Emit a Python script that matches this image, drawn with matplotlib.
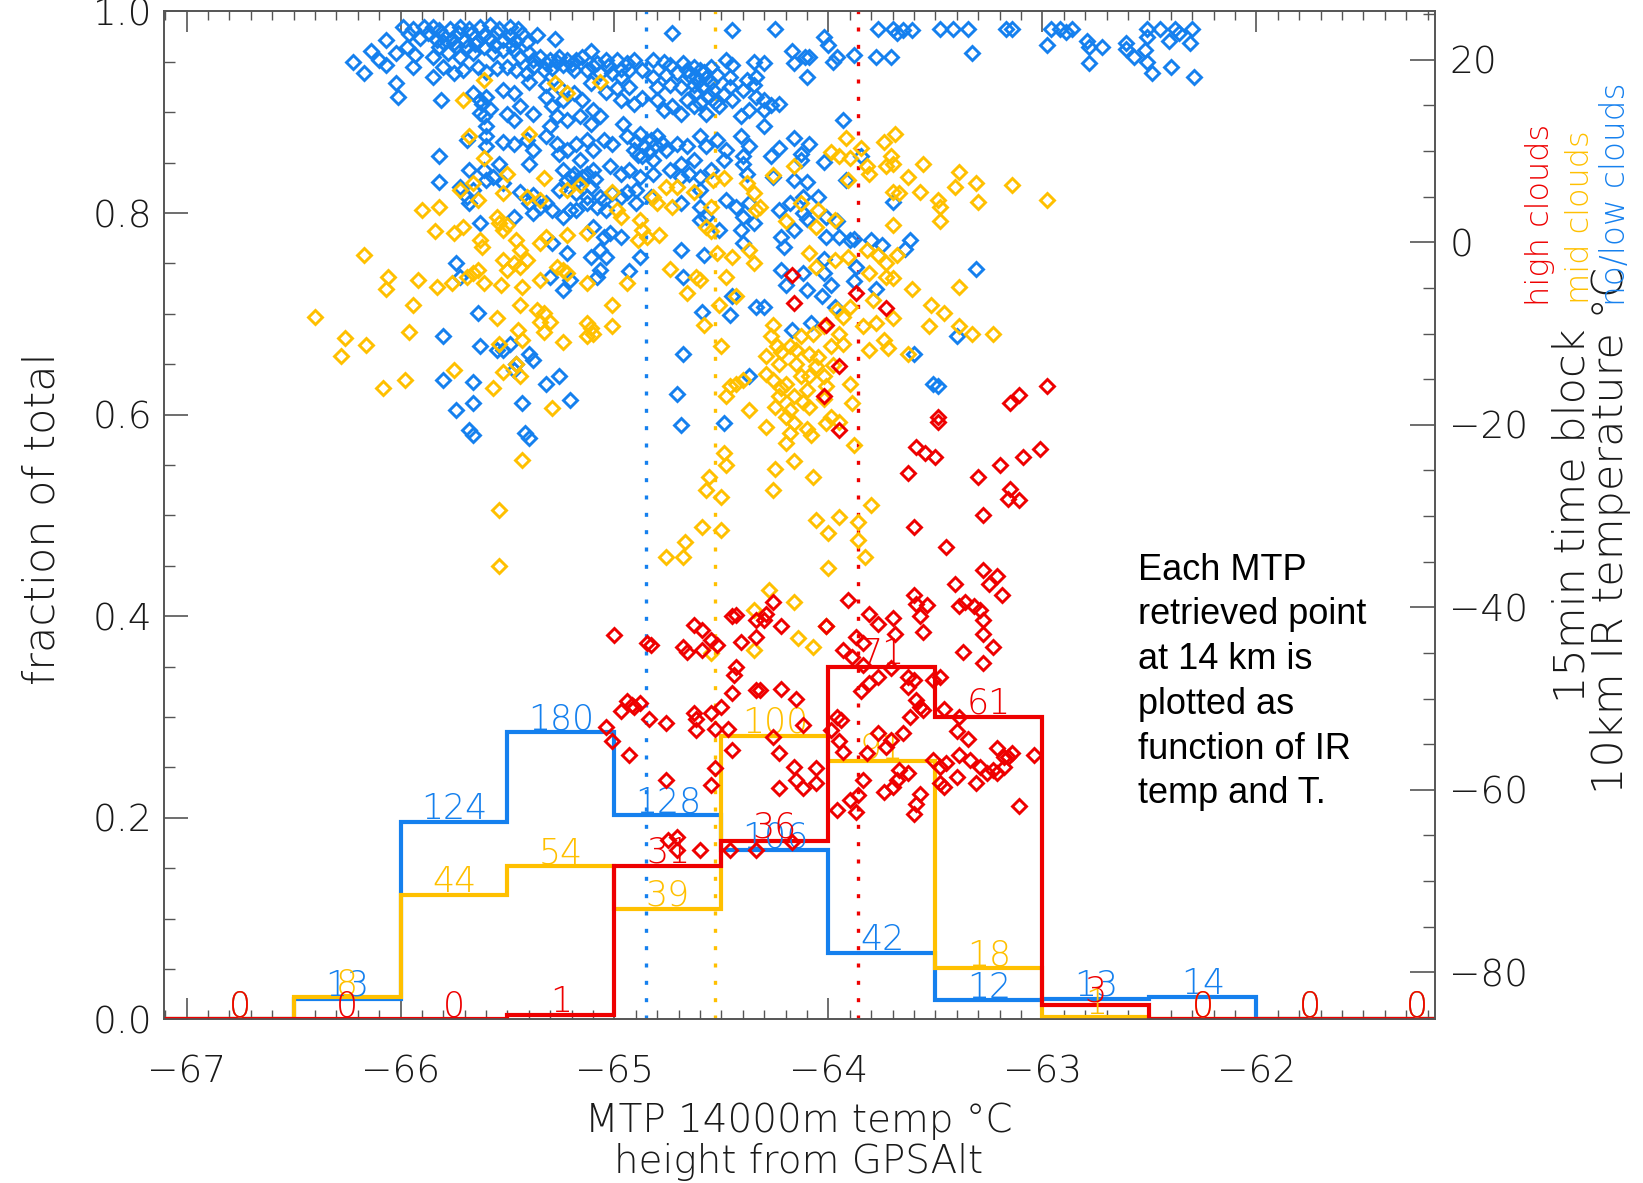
import numpy as np
import matplotlib
matplotlib.use("Agg")
import matplotlib.pyplot as plt
from matplotlib.ticker import MultipleLocator, FormatStrFormatter

plt.rcParams['font.family'] = ['DejaVu Sans']

# ---------------- data ----------------
bin_edges = [-67.0, -66.5, -66.0, -65.5, -65.0, -64.5, -64.0, -63.5, -63.0, -62.5, -62.0, -61.5, -61.0]
no_low_counts = [0, 13, 124, 180, 128, 106, 42, 12, 13, 14, 0, 0]
mid_counts = [0, 8, 44, 54, 39, 100, 91, 18, 1, 0, 0, 0]
high_counts = [0, 0, 0, 1, 31, 36, 71, 61, 3, 0, 0, 0]

# mean MTP temperature for each class (dotted lines)
mean_temps = {'no_low': -64.855, 'mid': -64.532, 'high': -63.861}

# scatter points: (MTP 14 km temp, 10 km IR temperature)
no_low_pts = [
    (-65.99,23.6),(-65.94,23.4),(-65.89,23.6),(-65.85,23.6),(-65.82,23.3),(-65.77,23.4),(-65.72,23.6),
    (-65.68,23.4),(-65.63,23.6),(-65.58,23.8),(-65.54,23.4),(-65.49,23.6),(-65.45,23.4),(-65.36,22.7),
    (-65.28,22.3),(-64.73,22.9),(-64.45,23.3),(-66.07,22.2),(-66.14,20.9),(-66.22,19.8),(-66.17,18.5),
    (-66.10,20.0),(-66.07,19.4),(-66.02,20.7),(-65.97,21.4),(-65.93,20.5),(-65.94,19.2),(-65.85,20.3),
    (-65.82,21.4),(-65.78,20.7),(-65.75,21.8),(-65.72,20.3),(-65.69,21.4),(-65.66,20.7),(-65.61,21.4),
    (-65.57,20.7),(-65.52,21.1),(-65.47,21.1),(-65.44,20.3),(-65.40,20.7),(-65.35,20.3),(-65.30,20.0),
    (-65.26,20.3),(-65.22,20.0),(-65.18,20.0),(-65.11,20.9),(-65.08,19.6),(-65.04,20.0),(-64.99,20.0),
    (-64.94,19.6),(-64.91,20.0),(-64.82,20.0),(-64.77,19.8),(-64.74,19.4),(-64.68,19.6),(-64.63,19.2),
    (-64.60,18.9),(-64.55,19.2),(-64.48,20.0),(-64.45,19.4),(-64.35,19.8),(-65.85,18.1),(-65.80,19.2),
    (-65.75,18.5),(-65.71,18.9),(-65.64,19.2),(-65.60,18.7),(-65.55,19.1),(-65.50,19.2),(-65.46,18.9),
    (-65.41,18.5),(-65.38,19.2),(-65.33,18.9),(-65.29,19.1),(-65.24,19.4),(-65.19,18.9),(-65.13,18.9),
    (-65.07,18.5),(-65.01,18.5),(-64.97,18.1),(-64.93,18.9),(-64.87,18.9),(-64.82,18.1),(-64.76,18.3),
    (-64.71,18.5),(-64.66,18.9),(-64.62,18.1),(-64.57,18.0),(-64.52,18.3),(-64.46,18.1),(-64.38,17.8),
    (-64.34,18.1),(-66.02,17.4),(-66.01,15.9),(-65.81,15.6),(-65.40,17.6),(-65.32,17.2),(-65.26,17.0),
    (-65.11,17.4),(-65.04,16.5),(-64.99,16.9),(-64.93,17.0),(-64.87,15.8),(-64.80,17.0),(-64.74,17.2),
    (-64.69,17.0),(-64.63,17.2),(-64.59,17.0),(-64.54,16.7),(-64.46,17.0),(-64.40,16.7),(-64.35,17.2),
    (-65.66,16.3),(-65.63,15.6),(-65.60,15.9),(-65.52,16.7),(-65.47,16.3),(-65.44,14.9),(-65.50,14.1),
    (-65.47,13.4),(-65.32,15.9),(-65.29,14.9),(-65.24,15.6),(-65.19,16.3),(-65.15,15.6),(-65.10,14.5),
    (-65.16,13.8),(-65.11,13.0),(-65.22,13.4),(-65.27,13.8),(-65.30,12.7),(-65.38,14.1),(-65.07,13.8),
    (-64.97,15.6),(-64.91,15.2),(-64.80,15.6),(-64.77,14.5),(-64.73,14.9),(-64.66,15.6),(-64.69,14.1),
    (-64.63,14.9),(-64.57,14.1),(-64.51,14.9),(-64.45,15.6),(-64.41,13.8),(-64.37,14.5),(-64.34,15.9),
    (-65.61,13.8),(-65.60,12.7),(-64.96,13.0),(-65.69,11.2),(-65.60,11.6),(-65.52,11.0),(-65.47,10.8),
    (-65.41,11.2),(-65.38,10.1),(-65.32,11.6),(-65.27,10.8),(-65.22,10.1),(-65.18,10.8),(-65.13,11.2),
    (-65.10,10.1),(-65.05,11.2),(-65.01,10.8),(-64.94,11.6),(-64.88,11.9),(-64.83,11.2),(-64.91,10.1),
    (-64.87,9.4),(-64.80,11.6),(-64.76,10.1),(-64.71,10.8),(-64.66,10.5),(-64.60,11.6),(-64.57,10.5),
    (-64.52,11.2),(-64.48,10.1),(-64.41,11.6),(-64.37,10.5),(-65.82,9.4),(-65.60,10.5),(-65.54,8.6),
    (-65.40,8.6),(-65.26,9.7),(-65.16,9.0),(-64.82,9.0),(-64.69,8.6),(-64.63,9.0),(-64.49,9.0),
    (-64.40,9.4),(-65.68,7.9),(-65.61,7.9),(-65.57,7.2),(-65.52,6.5),(-65.82,6.6),(-65.72,6.1),
    (-65.66,5.7),(-65.60,6.8),(-65.24,7.9),(-65.19,7.5),(-65.15,7.2),(-65.10,7.9),(-65.22,6.8),
    (-65.11,6.1),(-65.02,8.3),(-64.97,7.5),(-64.93,7.9),(-64.88,7.2),(-64.82,7.5),(-64.74,7.9),
    (-64.69,7.2),(-64.65,7.5),(-64.60,7.2),(-64.55,7.9),(-64.40,8.6),(-64.38,7.5),(-65.44,5.5),
    (-65.38,5.2),(-65.26,5.7),(-65.18,5.4),(-65.13,5.0),(-65.07,5.0),(-65.01,5.4),(-64.94,5.5),
    (-64.90,5.7),(-64.83,5.0),(-64.60,5.7),(-64.48,4.6),(-64.43,3.9),(-64.37,4.3),(-65.69,5.0),
    (-65.68,4.3),(-65.40,4.3),(-65.35,3.9),(-65.32,4.3),(-65.38,3.2),(-65.29,3.5),(-65.24,2.8),
    (-65.21,3.5),(-65.18,3.5),(-65.13,4.3),(-65.08,3.9),(-65.05,4.6),(-65.04,3.5),(-64.97,5.0),
    (-64.90,4.3),(-64.69,4.3),(-64.60,3.9),(-64.57,2.8),(-64.40,2.8),(-64.35,2.1),(-65.63,2.1),
    (-65.47,2.8),(-65.10,1.7),(-65.05,0.6),(-65.02,1.0),(-64.97,0.6),(-64.60,2.4),(-64.51,1.3),
    (-64.41,1.3),(-64.40,-0.1),(-65.29,-0.1),(-65.22,-1.2),(-65.11,-1.6),(-65.07,-0.9),(-65.04,-1.6),
    (-64.88,-1.6),(-64.69,-0.9),(-64.58,-1.4),(-65.74,-2.3),(-65.72,-3.8),(-65.30,-3.8),(-65.24,-5.2),
    (-65.21,-4.1),(-65.07,-3.0),(-65.08,-3.8),(-64.93,-3.2),(-64.68,-3.8),(-64.45,-5.9),(-64.34,-7.1),
    (-65.64,-7.8),(-65.80,-10.3),(-65.63,-11.4),(-65.55,-11.8),(-65.52,-11.8),(-65.49,-11.1),(-65.40,-12.2),
    (-65.38,-12.9),(-65.46,-13.3),(-64.59,-7.6),(-64.46,-8.0),(-64.68,-12.2),(-65.80,-15.1),(-65.66,-15.3),
    (-65.47,-14.0),(-65.32,-15.5),(-65.26,-14.7),(-64.71,-16.6),(-65.74,-18.4),(-65.66,-17.65),(-65.43,-17.65),
    (-65.21,-17.3),(-64.37,-14.7),(-65.68,-20.6),(-65.66,-21.1),(-65.42,-20.9),(-65.40,-21.5),(-64.69,-20.0),
    (-64.49,-19.8),
    (-64.25,23.4),(-63.77,23.4),(-63.70,23.4),(-63.68,22.9),(-63.65,23.3),(-63.61,23.3),(-63.48,23.4),
    (-63.42,23.4),(-63.35,23.4),(-63.17,23.4),(-63.14,23.4),(-62.96,23.4),(-62.92,23.4),(-62.89,23.07),
    (-62.86,23.4),(-62.51,23.4),(-62.45,23.4),(-62.38,23.4),(-62.36,22.9),(-62.30,23.4),(-64.02,22.5),
    (-64.00,21.6),(-64.17,20.9),(-64.11,20.3),(-64.09,20.3),(-64.16,19.6),(-63.96,20.3),(-63.98,19.8),
    (-63.88,20.5),(-63.78,20.3),(-63.71,20.3),(-63.33,20.7),(-64.30,19.6),(-64.10,18.1),(-62.98,21.6),
    (-62.79,22.0),(-62.78,21.4),(-62.72,21.4),(-62.61,21.8),(-62.61,21.2),(-62.57,20.3),(-62.52,21.1),
    (-62.51,19.8),(-62.49,18.5),(-62.40,19.2),(-62.41,22.0),(-62.31,21.8),(-62.51,22.5),(-62.29,18.1),
    (-62.78,19.6),(-64.30,15.6),(-64.27,15.0),(-64.23,15.2),(-64.30,14.5),(-64.30,12.7),(-63.93,13.4),
    (-64.16,11.4),(-64.09,10.8),(-64.23,10.3),(-64.27,9.4),(-64.13,9.7),(-64.13,9.0),(-64.02,8.8),
    (-64.26,7.2),(-64.16,6.8),(-64.10,6.6),(-63.92,6.8),(-63.85,9.4),(-64.23,3.5),(-64.18,4.3),
    (-64.12,5.0),(-64.05,5.0),(-64.12,3.2),(-64.10,2.6),(-64.01,2.8),(-63.96,2.3),(-64.22,0.6),
    (-64.21,-0.5),(-64.16,1.3),(-64.01,0.6),(-63.95,0.6),(-63.90,0.2),(-63.88,0.4),(-63.80,0.2),
    (-63.75,-0.3),(-63.64,-0.7),(-63.62,0.2),(-63.70,4.4),(-64.22,-3.0),(-64.12,-3.4),(-64.02,-3.4),
    (-63.99,-4.7),(-64.03,-5.9),(-64.10,-5.2),(-64.20,-4.7),(-64.30,-7.1),(-64.02,-1.8),(-63.87,-2.7),
    (-63.88,-4.3),(-63.78,-5.1),(-63.97,-7.1),(-64.08,-8.9),(-64.17,-9.6),(-63.31,-2.9),(-63.40,-10.3),
    (-63.60,-12.2),(-63.51,-15.5),(-63.49,-15.8),
    # dense clusters
    (-65.96,22.8),(-65.91,22.4),(-65.87,22.9),(-65.83,22.2),(-65.80,22.7),(-65.76,22.3),(-65.73,22.9),
    (-65.70,22.2),(-65.67,22.8),(-65.64,22.1),(-65.61,22.7),(-65.58,22.3),(-65.55,22.9),(-65.52,22.2),
    (-65.49,22.6),(-65.46,22.0),(-65.43,22.8),(-65.80,21.9),(-65.74,21.5),(-65.65,21.7),(-65.56,21.6),
    (-65.48,21.6),(-65.41,21.9),(-65.38,20.0),(-65.32,19.6),(-65.27,19.8),(-65.20,19.5),(-65.15,20.3),
    (-65.10,19.3),(-65.03,19.3),(-64.97,19.0),(-64.65,18.3),(-64.61,17.7),(-64.58,18.6),(-64.55,17.6),
    (-64.62,16.5),(-64.56,16.0),(-64.60,15.3),(-64.53,15.4),(-64.49,16.2),(-64.90,11.0),(-64.86,10.5),
    (-64.84,9.9),(-64.81,10.6),(-64.78,10.9),(-64.89,9.6),(-65.20,7.2),(-65.17,6.8),(-65.13,7.5),
    (-65.09,6.9),(-65.62,15.1),(-65.58,14.6),(-65.63,14.2),
]

mid_pts = [
    (-65.61,17.8),(-65.28,17.4),(-65.22,16.3),(-65.07,17.6),(-65.71,15.6),(-65.68,11.6),(-65.40,11.9),
    (-65.61,9.2),(-65.50,7.5),(-65.33,7.0),(-65.66,6.5),(-65.72,5.7),(-65.52,5.4),(-65.41,5.0),
    (-65.35,4.6),(-65.22,5.7),(-65.16,6.3),(-65.01,5.5),(-64.82,5.0),(-64.80,4.3),(-64.76,6.1),
    (-64.71,6.1),(-64.73,3.9),(-64.63,5.5),(-64.55,3.9),(-64.54,6.8),(-64.49,7.0),(-64.38,6.5),
    (-64.35,5.4),(-64.34,3.5),(-65.90,3.5),(-65.82,3.9),(-65.84,1.2),(-65.75,1.0),(-65.71,1.7),
    (-65.64,4.6),(-65.55,2.8),(-65.54,2.1),(-65.52,1.3),(-65.50,1.9),(-65.63,0.2),(-65.62,-0.5),
    (-65.46,0.2),(-65.44,-0.9),(-65.35,-0.1),(-65.32,0.6),(-65.22,0.8),(-65.13,1.0),(-64.99,3.5),
    (-64.97,2.8),(-64.88,2.4),(-64.87,1.3),(-64.85,0.6),(-64.79,0.8),(-64.89,0.2),(-64.57,1.7),
    (-64.55,1.2),(-64.52,-1.2),(-64.45,-1.6),(-64.37,-0.9),(-64.35,-2.3),(-66.17,-1.4),(-66.06,-3.8),
    (-66.07,-5.1),(-65.92,-4.1),(-65.83,-4.9),(-65.76,-4.5),(-65.69,-3.8),(-65.66,-3.4),(-65.64,-3.0),
    (-65.61,-4.5),(-65.52,-2.0),(-65.47,-2.3),(-65.44,-2.7),(-65.41,-2.0),(-65.50,-3.0),(-65.53,-4.7),
    (-65.43,-4.9),(-65.35,-4.1),(-65.27,-2.7),(-65.24,-3.0),(-65.22,-3.4),(-65.13,-4.5),(-64.94,-4.5),
    (-64.74,-2.9),(-64.62,-3.8),(-64.60,-4.1),(-64.66,-5.6),(-64.48,-3.8),(-64.43,-5.9),(-64.51,-6.9),
    (-66.40,-8.2),(-65.94,-6.9),(-65.55,-8.3),(-65.44,-6.9),(-65.36,-7.4),(-65.33,-7.8),(-65.35,-8.7),
    (-65.30,-8.7),(-65.13,-8.9),(-65.11,-9.4),(-65.10,-10.0),(-65.13,-10.3),(-65.01,-6.9),(-65.01,-9.2),
    (-64.58,-9.1),(-64.50,-11.4),(-66.26,-10.5),(-66.28,-12.5),(-66.16,-11.3),(-65.96,-9.8),(-65.45,-9.6),
    (-65.43,-10.7),(-65.33,-9.8),(-65.24,-10.9),(-65.54,-11.1),(-65.46,-13.3),(-65.44,-14.7),(-65.52,-14.2),
    (-65.75,-14.0),(-65.98,-15.1),(-66.08,-16.0),(-65.57,-16.0),(-65.29,-18.2),(-64.46,-15.8),(-64.43,-15.5),
    (-64.40,-15.1),(-64.48,-16.9),(-64.37,-18.4),
    (-65.43,-23.9),(-65.54,-29.3),(-65.54,-35.5),(-64.49,-23.1),(-64.48,-24.4),(-64.56,-25.7),(-64.57,-27.1),
    (-64.50,-27.9),(-64.59,-31.2),(-64.50,-31.5),(-64.67,-32.8),(-64.68,-34.5),(-64.76,-34.5),(-64.55,-45.0),
    (-64.35,-40.3),(-64.35,-44.7),
    (-63.69,11.9),(-63.74,11.0),(-63.92,11.4),(-63.99,9.9),(-63.95,9.4),(-63.90,9.2),(-63.85,10.3),
    (-63.71,9.4),(-63.70,8.6),(-63.73,8.3),(-63.82,8.3),(-63.81,7.5),(-63.56,8.6),(-63.63,7.2),
    (-63.39,7.7),(-64.16,8.3),(-64.26,7.4),(-63.91,6.8),(-63.31,6.5),(-63.41,6.1),(-63.14,6.3),
    (-62.98,4.6),(-63.57,5.5),(-63.70,5.5),(-63.67,5.4),(-63.49,4.6),(-63.48,3.9),(-63.30,4.4),
    (-63.48,2.3),(-63.70,1.9),(-64.13,4.3),(-64.05,3.5),(-64.06,1.7),(-64.20,2.3),(-63.97,2.4),
    (-64.32,3.9),(-64.09,-1.2),(-63.91,-1.6),(-63.82,-0.9),(-63.77,-1.4),(-63.68,-1.4),(-63.73,-2.3),
    (-63.97,-2.0),(-64.06,-2.7),(-63.81,-3.4),(-63.73,-3.8),(-63.70,-3.9),(-63.61,-5.1),(-63.39,-4.9),
    (-63.52,-6.9),(-63.46,-7.8),(-63.53,-9.2),(-63.39,-9.2),(-63.33,-10.0),(-63.23,-10.0),(-63.70,-8.3),
    (-63.79,-6.3),(-63.84,-9.2),(-63.78,-8.9),(-63.74,-10.7),(-63.72,-11.6),(-63.81,-11.8),(-63.63,-12.2),
    (-63.90,-15.5),(-63.89,-17.65),(-64.26,-9.1),(-64.27,-10.3),(-64.24,-11.4),(-64.18,-11.4),(-64.13,-10.3),
    (-64.07,-10.0),(-64.02,-9.2),(-63.96,-7.4),(-63.93,-8.2),(-63.90,-7.1),(-63.95,-10.0),(-63.99,-11.4),
    (-64.09,-12.2),(-64.15,-13.3),(-64.23,-13.3),(-64.29,-12.5),(-64.29,-14.4),(-64.26,-15.1),(-64.20,-15.5),
    (-64.13,-14.7),(-64.09,-14.7),(-64.02,-14.7),(-64.06,-13.6),(-64.01,-15.8),(-63.93,-11.1),(-64.10,-16.2),
    (-64.16,-16.9),(-64.23,-16.9),(-64.18,-18.4),(-64.09,-18.0),(-63.99,-19.1),
    (-64.29,-20.2),(-64.16,-19.8),(-64.18,-20.9),(-64.20,-22.0),(-64.08,-21.1),(-64.01,-19.8),(-63.95,-19.7),
    (-64.25,-24.9),(-64.16,-24.0),(-64.07,-25.7),(-64.26,-27.1),(-63.88,-22.2),(-63.80,-28.8),(-64.06,-30.4),
    (-64.00,-31.9),(-63.95,-30.1),(-63.86,-30.6),(-63.86,-32.6),(-63.83,-34.5),(-64.00,-35.7),(-64.28,-38.1),
    (-64.16,-39.4),(-64.01,-42.1),(-64.14,-43.4),(-64.07,-44.3),
    (-64.22,-12.0),(-64.15,-11.8),(-64.05,-12.6),(-64.12,-17.5),(-64.02,-17.2),(-64.25,-18.0),(-64.20,-19.2),
    (-64.10,-20.5),(-64.22,-16.0),(-63.98,-13.5),
]

high_pts = [
    (-65.00,-43.0),(-64.85,-43.9),(-64.83,-44.1),(-64.68,-44.3),(-64.66,-44.9),(-64.63,-41.9),(-64.59,-42.5),
    (-64.59,-44.7),(-64.55,-43.6),(-64.52,-44.1),(-64.45,-41.0),(-64.43,-40.8),(-64.41,-43.8),(-64.34,-41.4),
    (-64.34,-43.2),(-64.43,-46.5),(-64.44,-47.4),(-64.45,-49.4),(-64.34,-49.1),(-64.94,-50.3),(-64.92,-50.7),
    (-64.91,-50.9),(-64.88,-50.5),(-64.97,-51.4),(-64.84,-52.2),(-64.76,-52.7),(-64.63,-51.6),(-64.62,-52.2),
    (-64.62,-53.4),(-64.55,-51.6),(-64.50,-50.9),(-64.53,-53.3),(-64.47,-53.3),(-65.04,-53.1),(-65.01,-54.7),
    (-64.93,-56.2),(-64.76,-58.9),(-64.53,-57.6),(-64.55,-59.5),(-64.45,-55.6),
    (-64.17,-3.6),(-64.16,-6.7),(-64.01,-9.1),(-63.87,-5.6),(-63.73,-7.2),(-63.95,-13.6),(-64.02,-16.9),
    (-63.15,-17.65),(-63.11,-16.7),(-62.98,-15.8),(-63.49,-19.1),
    (-63.95,-20.6),(-63.49,-19.7),(-63.59,-22.4),(-63.55,-23.1),(-63.50,-23.5),(-63.63,-25.3),(-63.30,-25.7),
    (-63.20,-24.4),(-63.09,-23.5),(-63.01,-22.6),(-63.15,-27.0),(-63.16,-28.1),(-63.11,-28.2),(-63.28,-29.9),
    (-63.60,-31.2),(-63.45,-33.4),(-63.41,-37.4),(-63.28,-35.9),(-63.25,-37.4),(-63.21,-36.6),(-63.19,-38.7),
    (-63.60,-38.7),(-63.59,-39.6),(-63.54,-39.8),(-63.91,-39.2),(-64.26,-39.4),(-64.29,-40.7),(-64.30,-41.4),
    (-64.22,-42.1),(-64.01,-42.1),(-63.81,-40.7),(-63.77,-41.8),(-63.70,-41.2),(-63.69,-42.9),(-63.57,-41.0),
    (-63.56,-42.7),(-63.39,-39.9),(-63.36,-39.4),(-63.32,-39.9),(-63.29,-40.3),(-63.28,-41.4),(-63.28,-42.9),
    (-63.23,-44.3),(-63.37,-44.9),(-63.28,-46.1),(-63.87,-43.2),(-63.84,-43.9),(-63.93,-44.7),(-63.89,-45.4),
    (-63.84,-46.3),(-63.71,-46.7),(-63.77,-47.6),(-63.81,-48.3),(-63.85,-49.2),(-63.63,-47.6),(-63.63,-48.7),
    (-63.60,-48.0),(-63.51,-48.0),(-63.48,-47.6),(-63.59,-50.2),(-63.57,-50.9),(-63.56,-51.2),(-63.46,-51.1),
    (-63.39,-52.0),(-64.32,-49.1),(-64.22,-48.9),(-64.15,-50.0),(-64.12,-52.9),(-63.99,-53.4),(-63.96,-52.0),
    (-63.94,-52.3),(-63.77,-53.8),(-63.71,-54.5),(-63.65,-53.8),(-63.62,-52.0),(-63.40,-53.6),(-63.35,-54.4),
    (-64.26,-54.2),(-64.23,-56.0),(-63.95,-54.7),(-63.93,-55.8),(-63.82,-56.0),(-63.73,-55.3),(-63.67,-57.8),
    (-63.63,-58.2),(-63.68,-58.9),(-63.70,-59.7),(-63.74,-60.2),(-63.84,-58.9),(-63.86,-60.6),(-63.90,-61.1),
    (-63.96,-62.2),(-63.87,-62.4),(-64.16,-57.5),(-64.15,-58.9),(-64.23,-59.8),(-64.06,-57.6),(-64.06,-59.3),
    (-64.12,-59.8),(-63.57,-60.4),(-63.59,-61.5),(-63.60,-62.6),(-63.51,-56.7),(-63.48,-57.5),(-63.45,-57.1),
    (-63.48,-59.3),(-63.46,-59.7),(-63.40,-58.6),(-63.39,-56.2),(-63.34,-56.7),(-63.29,-57.5),(-63.31,-59.3),
    (-63.26,-58.2),(-63.23,-57.8),(-63.21,-55.4),(-63.18,-56.4),(-63.16,-56.4),(-63.14,-56.0),(-63.18,-57.5),
    (-63.21,-58.2),(-63.04,-56.2),(-63.11,-61.8),
    (-64.75,-65.5),(-64.71,-65.2),(-64.71,-66.6),(-64.60,-66.6),(-64.46,-66.6),(-64.34,-66.6),(-64.17,-65.7),
]

# ---------------- style ----------------
BLUE = '#1580EE'
YELLOW = '#FFC000'
RED = '#EE0000'
AXC = '#555555'
TXT = '#1a1a1a'
TICKFONT = 27
COUNTFONT = 25
RFONT = 31

XMIN, XMAX = -67.103, -61.163
Y2MIN, Y2MAX = -85.16, 25.28

fig = plt.figure(figsize=(16.43, 11.83), dpi=100)
ax = fig.add_axes([0.10012, 0.13821, 0.77358, 0.85207])
ax2 = ax.twinx()

ax.set_xlim(XMIN, XMAX)
ax.set_ylim(0.0, 1.0)
ax2.set_ylim(Y2MIN, Y2MAX)

for a in (ax, ax2):
    for s in a.spines.values():
        s.set_color(AXC)
        s.set_linewidth(1.2)

# ---------------- histograms ----------------
edges = np.array(bin_edges)
centers = 0.5 * (edges[:-1] + edges[1:])
series = [(no_low_counts, BLUE), (mid_counts, YELLOW), (high_counts, RED)]
for counts, col in series:
    c = np.array(counts, dtype=float)
    frac = c / c.sum()
    ax.stairs(np.r_[0.0, frac, 0.0], np.r_[XMIN, edges, XMAX], baseline=None,
              color=col, lw=3.0, zorder=3)
for counts, col in series:
    c = np.array(counts, dtype=float)
    frac = c / c.sum()
    for xc, f, n in zip(centers, frac, counts):
        ax.annotate(str(n), (xc, f), xytext=(0, 2), textcoords='offset points',
                    ha='center', va='baseline', color=col, fontsize=COUNTFONT,
                    fontweight='light', zorder=4, annotation_clip=False)

# mean lines
for key, col in (('no_low', BLUE), ('mid', YELLOW), ('high', RED)):
    ax.axvline(mean_temps[key], color=col, lw=2.4, linestyle=(0, (1.2, 4.0)), zorder=2)

# ---------------- scatter ----------------
for pts, col in ((no_low_pts, BLUE), (mid_pts, YELLOW), (high_pts, RED)):
    xs, ys = zip(*pts)
    ax2.plot(xs, ys, linestyle='none', marker='D', mfc='none', mec=col,
             ms=7.2, mew=2.1, zorder=5)

# ---------------- ticks ----------------
ax.xaxis.set_major_locator(MultipleLocator(1.0))
ax.xaxis.set_minor_locator(MultipleLocator(0.1))
ax.yaxis.set_major_locator(MultipleLocator(0.2))
ax.yaxis.set_minor_locator(MultipleLocator(0.05))
ax.yaxis.set_major_formatter(FormatStrFormatter('%.1f'))
ax2.yaxis.set_major_locator(MultipleLocator(20))
ax2.yaxis.set_minor_locator(MultipleLocator(5))

ax.tick_params(axis='x', which='both', direction='in', top=True, bottom=True,
               colors=AXC, labelcolor=TXT, labelsize=TICKFONT, pad=25)
ax.tick_params(axis='x', which='major', length=15, width=1.2)
ax.tick_params(axis='x', which='minor', length=6.5, width=1.0)
ax.tick_params(axis='y', which='both', direction='in', left=True, right=False,
               colors=AXC, labelcolor=TXT, labelsize=TICKFONT, pad=9)
ax.tick_params(axis='y', which='major', length=17, width=1.2)
ax.tick_params(axis='y', which='minor', length=8, width=1.0)
ax2.tick_params(axis='y', which='both', direction='in', right=True, left=False,
                colors=AXC, labelcolor=TXT, labelsize=TICKFONT, pad=10)
ax2.tick_params(axis='y', which='major', length=18, width=1.2)
ax2.tick_params(axis='y', which='minor', length=9, width=1.0)
for lab in ax.get_xticklabels() + ax.get_yticklabels() + ax2.get_yticklabels():
    lab.set_fontweight('light')

# ---------------- labels ----------------
fig.text(0.0256, 0.5613, 'fraction of total', rotation=90, ha='center', va='center',
         fontsize=RFONT, color=TXT, fontweight='light')
fig.text(0.4863, 0.0431, 'MTP 14000m temp °C', ha='center', va='baseline',
         fontsize=28, color=TXT, fontweight='light')
fig.text(0.4863, 0.0085, 'height from GPSAlt', ha='center', va='baseline',
         fontsize=28, color=TXT, fontweight='light')

fig.text(0.9568, 0.5638, '15min time block', rotation=90, ha='center', va='center',
         fontsize=RFONT, color=TXT, fontweight='light')
fig.text(0.9800, 0.5520, '10km IR temperature °C', rotation=90, ha='center', va='center',
         fontsize=RFONT, color=TXT, fontweight='light')
fig.text(0.9374, 0.8183, 'high clouds', rotation=90, ha='center', va='center',
         fontsize=23, color=RED, fontweight='light')
fig.text(0.9617, 0.8165, 'mid clouds', rotation=90, ha='center', va='center',
         fontsize=23, color=YELLOW, fontweight='light')
fig.text(0.9833, 0.8360, 'no/low clouds', rotation=90, ha='center', va='center',
         fontsize=23.5, color=BLUE, fontweight='light')

fig.text(0.6926, 0.4235,
         'Each MTP\nretrieved point\nat 14 km is\nplotted as\nfunction of IR\ntemp and T.',
         ha='left', va='center', fontsize=26, family=['Liberation Sans', 'DejaVu Sans'],
         color='black', linespacing=1.36)

fig.savefig('out.png', dpi=100)
